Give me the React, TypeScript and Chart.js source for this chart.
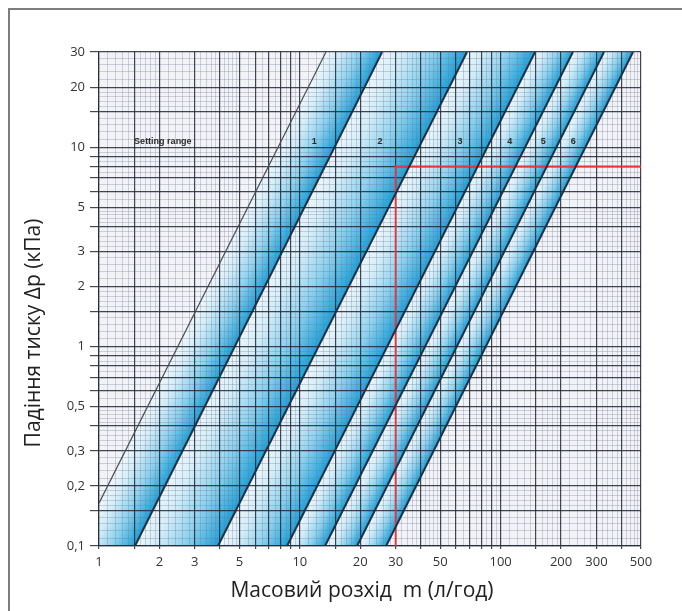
import React, { useEffect, useRef } from 'react';
import { Chart, registerables } from 'chart.js';

Chart.register(...registerables);

// ---- axes ----
const xMin = 1;
const xMax = 500;
const yMin = 0.1;
const yMax = 30;
const xTickValues = [1, 2, 3, 5, 10, 20, 30, 50, 100, 200, 300, 500];
const xTickLabels = ['1', '2', '3', '5', '10', '20', '30', '50', '100', '200', '300', '500'];
const yTickValues = [0.1, 0.2, 0.3, 0.5, 1, 2, 3, 5, 10, 20, 30];
const yTickLabels = ['0,1', '0,2', '0,3', '0,5', '1', '2', '3', '5', '10', '20', '30'];
const xGridMajor = [1, 1.5, 2, 3, 4, 5, 6, 7, 8, 9, 10, 15, 20, 30, 40, 50, 60, 70, 80, 90, 100, 150, 200, 300, 400, 500];
const yGridMajor = [0.1, 0.15, 0.2, 0.3, 0.4, 0.5, 0.6, 0.7, 0.8, 0.9, 1, 1.5, 2, 3, 4, 5, 6, 7, 8, 9, 10, 15, 20, 30];
const minorMultipliers = [1.1, 1.2, 1.3, 1.4, 1.6, 1.7, 1.8, 1.9, 2.2, 2.4, 2.6, 2.8, 3.2, 3.4, 3.6, 3.8, 4.2, 4.4, 4.6, 4.8, 5.5, 6.5, 7.5, 8.5, 9.5];
const decades = [0.1, 1, 10, 100];
const xTitle = 'Масовий розхід  m (л/год)';
const yTitle = 'Падіння тиску Δp (кПа)';

// ---- lines ----
const settingLimitX = [1, 1, 13.5];
const settingLimitY = [0.1, 0.164, 30];
const curveNames = ['1', '2', '3', '4', '5', '6'];
const curveFlowAtBottom = [1.51, 3.91, 8.64, 13.35, 19.3, 26.9];
const curveFlowAtTop = [25.7, 68.0, 148.4, 229, 327, 456];
const curveDpBottom = 0.1;
const curveDpTop = 30;

const exampleFlow = 30;
const exampleDp = 8;

const labelTexts = ['Setting range', '1', '2', '3', '4', '5', '6'];
const labelFlows = [2.08, 11.8, 25.1, 62.8, 111, 163, 230];
const labelDp = 10.7;

const gridDark = 'rgba(38,44,58,0.88)';
const FONT = '"Open Sans", "Noto Sans", sans-serif';

const bandPlugin = {
  id: 'bands',
  beforeDraw(chart: any) {
    const { ctx, chartArea: a } = chart;
    const xs = chart.scales.x;
    const ys = chart.scales.y;
    ctx.save();
    ctx.fillStyle = '#f2f3f6';
    ctx.fillRect(a.left, a.top, a.right - a.left, a.bottom - a.top);
    ctx.beginPath();
    ctx.rect(a.left, a.top, a.right - a.left, a.bottom - a.top);
    ctx.clip();
    for (let i = 1; i <= curveNames.length; i++) {
      const L = chart.getDatasetMeta(i - 1).data;
      const R = chart.getDatasetMeta(i).data;
      if (!L.length || !R.length) continue;
      ctx.beginPath();
      L.forEach((p: any, k: number) => (k ? ctx.lineTo(p.x, p.y) : ctx.moveTo(p.x, p.y)));
      for (let k = R.length - 1; k >= 0; k--) ctx.lineTo(R[k].x, R[k].y);
      ctx.closePath();
      const r0 = R[0];
      const r1 = R[R.length - 1];
      let ux = r1.x - r0.x;
      let uy = r1.y - r0.y;
      const len = Math.hypot(ux, uy) || 1;
      ux /= len;
      uy /= len;
      const nx = -uy;
      const ny = ux;
      const l1 = L[L.length - 1];
      const d = (r1.x - l1.x) * nx + (r1.y - l1.y) * ny;
      const g = ctx.createLinearGradient(l1.x, l1.y, l1.x + nx * d, l1.y + ny * d);
      g.addColorStop(0, '#eef6fa');
      g.addColorStop(0.25, '#d3edf8');
      g.addColorStop(0.6, '#8cd1ee');
      g.addColorStop(1, '#1f a0d8'.replace(' ', ''));
      ctx.fillStyle = g;
      ctx.fill();
    }
    // minor grid
    ctx.strokeStyle = 'rgba(110,120,145,0.3)';
    ctx.lineWidth = 1;
    ctx.beginPath();
    decades.forEach((dec) => {
      minorMultipliers.forEach((m) => {
        const v = m * dec;
        if (v > xMin && v < xMax) {
          const px = Math.round(xs.getPixelForValue(v)) + 0.5;
          ctx.moveTo(px, a.top);
          ctx.lineTo(px, a.bottom);
        }
        if (v > yMin && v < yMax) {
          const py = Math.round(ys.getPixelForValue(v)) + 0.5;
          ctx.moveTo(a.left, py);
          ctx.lineTo(a.right, py);
        }
      });
    });
    ctx.stroke();
    ctx.restore();
  },
  afterDatasetsDraw(chart: any) {
    const { ctx } = chart;
    const xs = chart.scales.x;
    const ys = chart.scales.y;
    ctx.save();
    ctx.font = 'bold 9px "Liberation Sans", Arial, sans-serif';
    ctx.fillStyle = '#2a2a2a';
    ctx.textAlign = 'center';
    ctx.textBaseline = 'middle';
    labelTexts.forEach((t, i) => {
      ctx.fillText(t, xs.getPixelForValue(labelFlows[i]), ys.getPixelForValue(labelDp));
    });
    ctx.restore();
  },
  afterDraw(chart: any) {
    const { ctx, chartArea: a } = chart;
    ctx.save();
    ctx.font = `21px ${FONT}`;
    ctx.fillStyle = '#222';
    ctx.textAlign = 'center';
    ctx.textBaseline = 'middle';
    ctx.fillText(xTitle, (a.left + a.right) / 2 - 8, 591);
    ctx.translate(34, (a.top + a.bottom) / 2 + 34);
    ctx.rotate(-Math.PI / 2);
    ctx.fillText(yTitle, 0, 0);
    ctx.restore();
  },
};

export default function App() {
  const ref = useRef<HTMLCanvasElement>(null);
  useEffect(() => {
    const canvas = ref.current!;
    const curveDatasets = curveNames.map((n, i) => ({
      label: n,
      data: [
        { x: curveFlowAtBottom[i], y: curveDpBottom },
        { x: curveFlowAtTop[i], y: curveDpTop },
      ],
      borderColor: '#1b3145',
      borderWidth: 2,
      pointRadius: 0,
      fill: false,
    }));
    const chart = new Chart(canvas, {
      type: 'line',
      data: {
        datasets: [
          {
            label: 'Setting range',
            data: settingLimitX.map((x, i) => ({ x, y: settingLimitY[i] })),
            borderColor: '#4a4f57',
            borderWidth: 1.2,
            pointRadius: 0,
            fill: false,
            segment: {
              borderColor: (c: any) => (c.p0DataIndex === 0 ? 'rgba(0,0,0,0)' : undefined),
            },
          },
          ...curveDatasets,
          {
            label: 'Example',
            data: [
              { x: exampleFlow, y: yMin },
              { x: exampleFlow, y: exampleDp },
              { x: xMax, y: exampleDp },
            ],
            borderColor: '#e8343c',
            borderWidth: 1.8,
            pointRadius: 0,
            fill: false,
          },
        ] as any,
      },
      options: {
        responsive: false,
        animation: false,
        devicePixelRatio: 1,
        layout: { padding: { top: 52, right: 41, left: 0, bottom: 0 } },
        elements: { line: { tension: 0 } },
        plugins: { legend: { display: false }, tooltip: { enabled: false } },
        scales: {
          x: {
            type: 'logarithmic',
            min: xMin,
            max: xMax,
            afterBuildTicks: (s: any) => {
              s.ticks = xGridMajor.map((v) => ({ value: v }));
            },
            afterFit: (s: any) => {
              s.height = 65;
            },
            grid: { color: gridDark, lineWidth: 1.2, tickLength: 3, drawTicks: true },
            border: { display: true, color: gridDark, width: 1.2 },
            ticks: {
              autoSkip: false,
              maxRotation: 0,
              padding: 5,
              color: '#333',
              font: { family: FONT, size: 13 },
              callback: (v: any) => {
                const i = xTickValues.indexOf(Number(v));
                return i >= 0 ? xTickLabels[i] : '';
              },
            },
            title: { display: false },
          },
          y: {
            type: 'logarithmic',
            min: yMin,
            max: yMax,
            afterBuildTicks: (s: any) => {
              s.ticks = yGridMajor.map((v) => ({ value: v }));
            },
            afterFit: (s: any) => {
              s.width = 99;
            },
            grid: { color: gridDark, lineWidth: 1.2, tickLength: 9, drawTicks: true },
            border: { display: true, color: gridDark, width: 1.2 },
            ticks: {
              autoSkip: false,
              padding: 5,
              color: '#333',
              font: { family: FONT, size: 13 },
              callback: (v: any) => {
                const i = yTickValues.indexOf(Number(v));
                return i >= 0 ? yTickLabels[i] : '';
              },
            },
            title: { display: false },
          },
        },
      } as any,
      plugins: [bandPlugin],
    });
    return () => chart.destroy();
  }, []);

  return (
    <div style={{ position: 'fixed', left: 0, top: 0, width: 682, height: 611, overflow: 'hidden', background: '#fff' }}>
      <canvas ref={ref} width={682} height={611} style={{ position: 'absolute', left: 0, top: 0, width: 682, height: 611 }} />
      <div
        style={{
          position: 'absolute',
          left: 8,
          top: 8,
          width: 720,
          height: 720,
          borderTop: '2px solid #7d7d7d',
          borderLeft: '2px solid #7d7d7d',
          pointerEvents: 'none',
        }}
      />
    </div>
  );
}
